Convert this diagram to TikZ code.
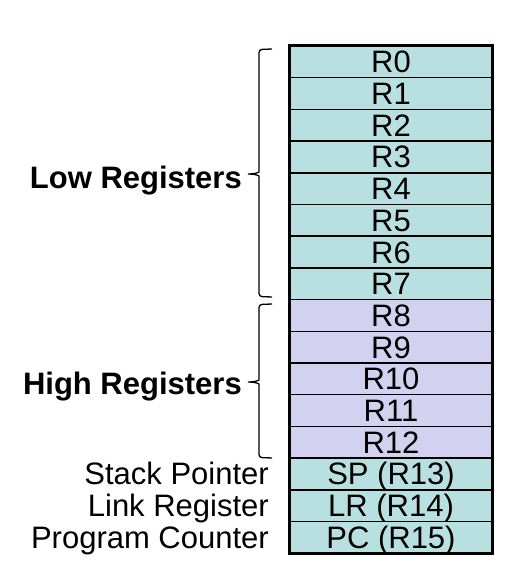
\documentclass[tikz,border=0pt]{standalone}
\usepackage{fontspec}
\setmainfont{Liberation Sans}
\definecolor{lowc}{RGB}{185,224,224}
\definecolor{highc}{RGB}{210,210,240}
\begin{document}
\begin{tikzpicture}[x=1pt,y=-1pt,
  reg/.style={draw=black, line width=1.5pt, minimum width=202pt, minimum height=31.7pt,
    inner sep=0pt, font=\fontsize{31}{36}\selectfont, text height=22pt, text depth=0pt},
  lbl/.style={anchor=east, inner sep=0pt, font=\fontsize{31}{36}\selectfont, text height=22pt, text depth=0pt},
  grp/.style={anchor=east, inner sep=0pt, font=\fontsize{31}{36}\selectfont\bfseries, text height=22pt, text depth=0pt},
  bracestyle/.style={draw=black, line width=1.3pt, rounded corners=3pt}]
\useasboundingbox (0,0) rectangle (515,576);
\foreach \i/\t in {0/R0,1/R1,2/R2,3/R3,4/R4,5/R5,6/R6,7/R7}{
  \node[reg, fill=lowc] (r\i) at (391, 46+15.85+\i*31.7) {\t};
}
\foreach \i/\t in {8/R8,9/R9,10/R10,11/R11,12/R12}{
  \node[reg, fill=highc] (r\i) at (391, 46+15.85+\i*31.7) {\t};
}
\node[reg, fill=lowc] (r13) at (391, 46+15.85+13*31.7) {SP (R13)};
\node[reg, fill=lowc] (r14) at (391, 46+15.85+14*31.7) {LR (R14)};
\node[reg, fill=lowc] (r15) at (391, 46+15.85+15*31.7) {PC (R15)};
\draw[line width=2pt] (r0.north west) rectangle (r15.south east);
\node[lbl] (sp) at (269, 46+15.85+13*31.7) {Stack Pointer};
\node[lbl] (lr) at (269, 46+15.85+14*31.7) {Link Register};
\node[lbl] (pc) at (269, 46+15.85+15*31.7) {Program Counter};
% low brace
\coordinate (lowt) at (272,49);
\coordinate (lowb) at (272,297);
\coordinate (lowtip) at (246,174);
\draw[bracestyle] (lowt) -- (259,49.5) -- (259,169)
  .. controls (259,172) and (256,174) .. (lowtip)
  .. controls (256,174) and (259,176) .. (259,179) -- (259,296.5) -- (lowb);
% high brace
\coordinate (hight) at (272,304);
\coordinate (highb) at (272,458);
\coordinate (hightip) at (246,382);
\draw[bracestyle] (hight) -- (259,304.5) -- (259,377)
  .. controls (259,380) and (256,382) .. (hightip)
  .. controls (256,382) and (259,384) .. (259,387) -- (259,457.5) -- (highb);
\node[grp] (low) at (242, 177) {Low Registers};
\node[grp] (high) at (242, 383) {High Registers};
\end{tikzpicture}
\end{document}
